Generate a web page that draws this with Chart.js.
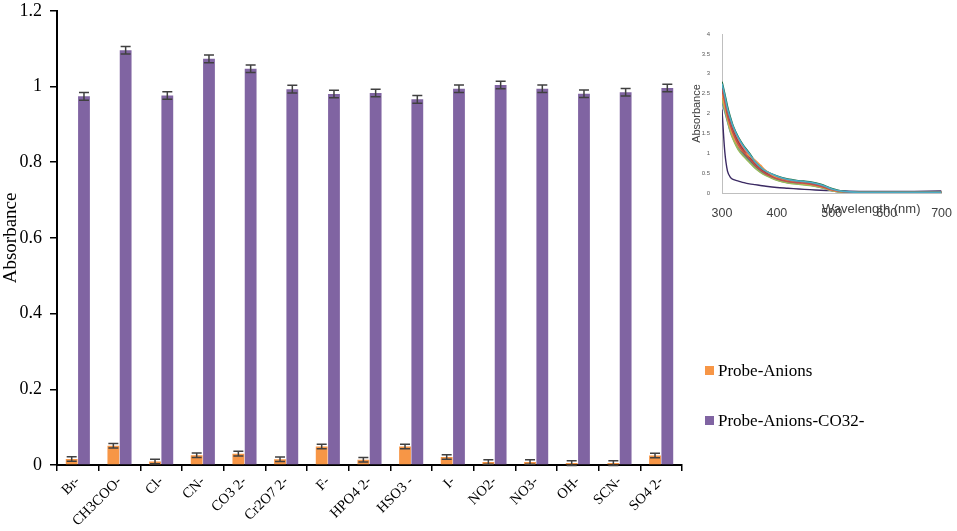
<!DOCTYPE html>
<html>
<head>
<meta charset="utf-8">
<script src="https://cdn.jsdelivr.net/npm/chart.js@4.4.0/dist/chart.umd.min.js"></script>
<style>
  body { margin: 0; background: #fff; overflow: hidden; }
  #wrap { position: relative; width: 957px; height: 531px; overflow: hidden; }
  #mainChart { position: absolute; left: 0; top: -8px; }
  #inset { position: absolute; left: 690px; top: 20px; }
  .lg { position: absolute; left: 705px; font-family: "Liberation Serif", serif; font-size: 17px; color: #000; white-space: nowrap; }
  .lg span { display: inline-block; width: 9px; height: 9px; margin-right: 4px; vertical-align: 1px; }
  #wl { position: absolute; left: 822px; top: 201px; font-family: "Liberation Sans", sans-serif; font-size: 13px; color: #404040; }
</style>
</head>
<body>
<div id="wrap">
  <canvas id="mainChart" width="957" height="539"></canvas>
  <canvas id="inset" width="267" height="205"></canvas>
  <div id="wl">Wavelength (nm)</div>
  <div class="lg" style="top:361px"><span style="background:#f79646"></span>Probe-Anions</div>
  <div class="lg" style="top:411px"><span style="background:#8064a2"></span>Probe-Anions-CO32-</div>
</div>
<script>
// main bar chart data
var anions = ["Br-", "CH3COO-", "Cl-", "CN-", "CO3 2-", "Cr2O7 2-", "F-", "HPO4 2-", "HSO3 -", "I-", "NO2-", "NO3-", "OH-", "SCN-", "SO4 2-"];
var probeAnions = [0.016, 0.051, 0.009, 0.026, 0.030, 0.015, 0.049, 0.014, 0.049, 0.021, 0.008, 0.008, 0.005, 0.005, 0.025];
var probeAnionsErr = [0.006, 0.006, 0.006, 0.006, 0.006, 0.006, 0.006, 0.006, 0.006, 0.006, 0.006, 0.006, 0.006, 0.006, 0.006];
var probeAnionsCO3 = [0.974, 1.096, 0.976, 1.073, 1.047, 0.993, 0.980, 0.983, 0.966, 0.994, 1.004, 0.994, 0.981, 0.985, 0.996];
var probeAnionsCO3Err = [0.010, 0.010, 0.010, 0.010, 0.010, 0.010, 0.010, 0.010, 0.010, 0.010, 0.010, 0.010, 0.010, 0.010, 0.010];
var yTicks = [0, 0.2, 0.4, 0.6, 0.8, 1, 1.2];

// inset spectra data
var wavelength = [300, 305, 310, 315, 320, 330, 340, 350, 360, 370, 380, 400, 420, 440, 460, 480, 500, 520, 550, 600, 650, 700];
var specBlank = [2.10, 1.05, 0.55, 0.40, 0.34, 0.30, 0.26, 0.23, 0.21, 0.19, 0.17, 0.14, 0.12, 0.10, 0.085, 0.07, 0.06, 0.05, 0.04, 0.04, 0.04, 0.05];
var spec1 = [2.75, 2.45, 2.12, 1.88, 1.68, 1.38, 1.16, 0.98, 0.79, 0.65, 0.55, 0.42, 0.34, 0.30, 0.27, 0.21, 0.10, 0.04, 0.02, 0.02, 0.02, 0.02];
var spec2 = [2.60, 2.30, 1.95, 1.72, 1.52, 1.22, 1.02, 0.86, 0.70, 0.58, 0.48, 0.36, 0.29, 0.26, 0.23, 0.17, 0.08, 0.03, 0.01, 0.01, 0.01, 0.01];
var spec3 = [2.50, 2.20, 1.90, 1.65, 1.45, 1.18, 1.02, 0.93, 0.83, 0.70, 0.56, 0.38, 0.30, 0.26, 0.22, 0.16, 0.07, 0.03, 0.01, 0.01, 0.01, 0.01];
var spec4 = [2.80, 2.50, 2.18, 1.92, 1.70, 1.40, 1.18, 1.00, 0.80, 0.66, 0.55, 0.43, 0.35, 0.31, 0.28, 0.22, 0.11, 0.04, 0.02, 0.02, 0.02, 0.02];
var spec5 = [2.35, 2.10, 1.82, 1.56, 1.36, 1.08, 0.91, 0.77, 0.63, 0.52, 0.44, 0.32, 0.25, 0.22, 0.19, 0.14, 0.06, 0.02, 0.01, 0.01, 0.01, 0.01];
var spec6 = [2.65, 2.35, 2.00, 1.76, 1.56, 1.27, 1.06, 0.89, 0.72, 0.60, 0.50, 0.38, 0.31, 0.27, 0.24, 0.18, 0.08, 0.03, 0.02, 0.02, 0.02, 0.02];
var spec7 = [2.30, 2.05, 1.80, 1.55, 1.38, 1.10, 0.93, 0.79, 0.64, 0.53, 0.45, 0.33, 0.26, 0.23, 0.20, 0.14, 0.06, 0.02, 0.01, 0.01, 0.01, 0.01];
var spec8 = [2.70, 2.40, 2.06, 1.82, 1.62, 1.32, 1.11, 0.94, 0.76, 0.63, 0.52, 0.40, 0.32, 0.28, 0.26, 0.20, 0.09, 0.03, 0.02, 0.02, 0.02, 0.02];
var spec9 = [2.55, 2.25, 1.93, 1.70, 1.49, 1.20, 1.00, 0.84, 0.68, 0.57, 0.47, 0.35, 0.28, 0.25, 0.23, 0.17, 0.07, 0.03, 0.01, 0.01, 0.01, 0.01];
var spec10 = [2.45, 2.18, 1.87, 1.64, 1.44, 1.16, 0.97, 0.82, 0.66, 0.55, 0.46, 0.34, 0.27, 0.24, 0.22, 0.16, 0.07, 0.02, 0.01, 0.01, 0.01, 0.01];
var specColors = ["#4bacc6", "#c0504d", "#f79646", "#1f6b3a", "#9bbb59", "#8b3a3a", "#4f81bd", "#ff6f61", "#2e8b57", "#e46c0a"];

var errorBars = {
    id: "errorBars",
    afterDatasetsDraw: function(chart) {
        var ctx = chart.ctx;
        var y = chart.scales.y;
        var errs = [probeAnionsErr, probeAnionsCO3Err];
        ctx.save();
        ctx.strokeStyle = "#404040";
        ctx.lineWidth = 1.5;
        chart.data.datasets.forEach(function(ds, d) {
            var meta = chart.getDatasetMeta(d);
            meta.data.forEach(function(bar, i) {
                var v = ds.data[i];
                var top = y.getPixelForValue(v + errs[d][i]);
                var bot = y.getPixelForValue(v - errs[d][i]);
                ctx.beginPath();
                ctx.moveTo(bar.x, top); ctx.lineTo(bar.x, bot);
                ctx.moveTo(bar.x - 5, top); ctx.lineTo(bar.x + 5, top);
                ctx.moveTo(bar.x - 5, bot); ctx.lineTo(bar.x + 5, bot);
                ctx.stroke();
            });
        });
        ctx.restore();
    }
};

new Chart(document.getElementById("mainChart"), {
    type: "bar",
    data: {
        labels: anions,
        datasets: [
            { label: "Probe-Anions", data: probeAnions, backgroundColor: "#f79646", categoryPercentage: 0.59, barPercentage: 0.96 },
            { label: "Probe-Anions-CO32-", data: probeAnionsCO3, backgroundColor: "#8064a2", categoryPercentage: 0.59, barPercentage: 0.96 }
        ]
    },
    options: {
        responsive: false,
        animation: false,
        layout: { padding: { left: 0, top: 2, right: 275, bottom: 0 } },
        plugins: { legend: { display: false }, tooltip: { enabled: false } },
        scales: {
            x: {
                grid: { drawOnChartArea: false, color: "#000", tickLength: 6, offset: true, lineWidth: 1.5 },
                border: { color: "#000", width: 2 },
                ticks: { color: "#000", font: { family: "Liberation Serif", size: 14.5 }, minRotation: 45, maxRotation: 45, padding: 2 },
                afterFit: function(s) { s.height = 66; }
            },
            y: {
                min: 0, max: 1.2,
                afterBuildTicks: function(s) { s.ticks = yTicks.map(function(v) { return { value: v }; }); },
                grid: { drawOnChartArea: false, color: "#000", tickLength: 7, lineWidth: 1.5 },
                border: { color: "#000", width: 2 },
                ticks: { color: "#000", font: { family: "Liberation Serif", size: 18 }, padding: 8,
                    callback: function(v) { return String(v); } },
                title: { display: true, text: "Absorbance", color: "#000", font: { family: "Liberation Serif", size: 19 }, padding: { top: 0, bottom: 3 } },
                afterFit: function(s) { s.width = 57; }
            }
        }
    },
    plugins: [errorBars]
});

function pts(arr) {
    return wavelength.map(function(w, i) { return { x: w, y: arr[i] }; });
}
var specSets = [spec1, spec2, spec3, spec4, spec5, spec6, spec7, spec8, spec9, spec10].map(function(s, i) {
    return { data: pts(s), borderColor: specColors[i], borderWidth: 1.6, pointRadius: 0, tension: 0.3 };
});
specSets.push({ data: pts(specBlank), borderColor: "#3b2a63", borderWidth: 1.4, pointRadius: 0, tension: 0.3 });

new Chart(document.getElementById("inset"), {
    type: "line",
    data: { datasets: specSets },
    options: {
        responsive: false,
        animation: false,
        layout: { padding: { left: 0, top: 14, right: 14, bottom: 0 } },
        plugins: { legend: { display: false }, tooltip: { enabled: false } },
        scales: {
            x: {
                type: "linear", min: 300, max: 700,
                grid: { display: false },
                border: { color: "#bfbfbf", width: 1 },
                ticks: { stepSize: 100, color: "#404040", font: { family: "Liberation Sans", size: 12.5 }, padding: 5, maxRotation: 0 },
                afterFit: function(s) { s.height = 32; }
            },
            y: {
                min: 0, max: 4,
                grid: { display: false },
                border: { color: "#bfbfbf", width: 1 },
                ticks: { stepSize: 0.5, color: "#595959", font: { family: "Liberation Sans", size: 6 }, padding: 4,
                    callback: function(v) { return String(v); } },
                title: { display: true, text: "Absorbance", color: "#404040", font: { family: "Liberation Sans", size: 11 }, padding: 0 },
                afterFit: function(s) { s.width = 32; }
            }
        }
    }
});
</script>
</body>
</html>
